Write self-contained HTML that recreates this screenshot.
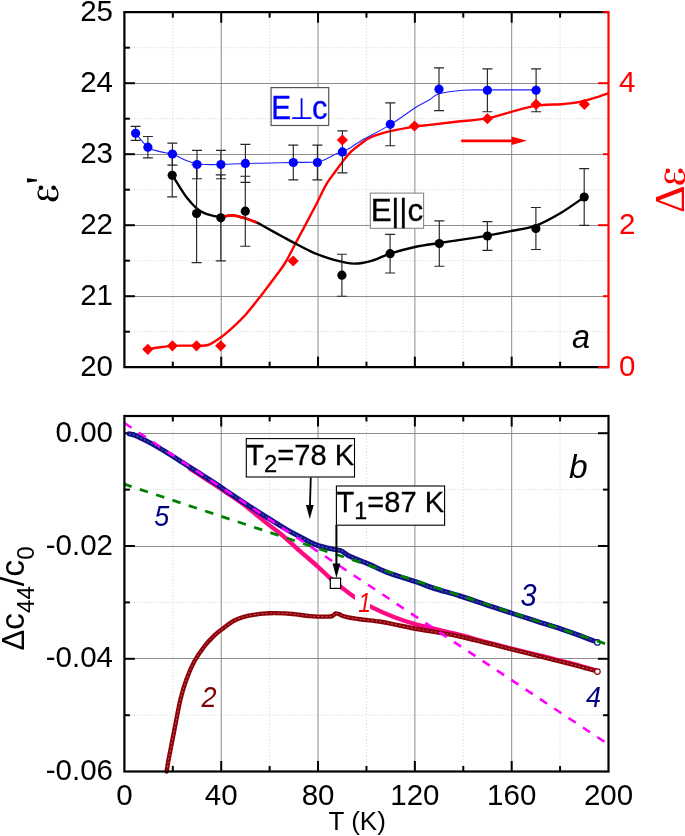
<!DOCTYPE html>
<html><head><meta charset="utf-8"><style>
html,body{margin:0;padding:0;background:#fff;}
body{width:685px;height:836px;overflow:hidden;}
svg{display:block;will-change:transform;}
</style></head><body>
<svg width="685" height="836" viewBox="0 0 685 836">
<rect width="685" height="836" fill="#fff"/>
<line x1="172.81" y1="12.2" x2="172.81" y2="367.2" stroke="#dcdcdc" stroke-width="1" stroke-dasharray="1.4 1.8"/>
<line x1="269.63" y1="12.2" x2="269.63" y2="367.2" stroke="#dcdcdc" stroke-width="1" stroke-dasharray="1.4 1.8"/>
<line x1="366.45" y1="12.2" x2="366.45" y2="367.2" stroke="#dcdcdc" stroke-width="1" stroke-dasharray="1.4 1.8"/>
<line x1="463.27" y1="12.2" x2="463.27" y2="367.2" stroke="#dcdcdc" stroke-width="1" stroke-dasharray="1.4 1.8"/>
<line x1="560.09" y1="12.2" x2="560.09" y2="367.2" stroke="#dcdcdc" stroke-width="1" stroke-dasharray="1.4 1.8"/>
<line x1="124.4" y1="331.7" x2="608.5" y2="331.7" stroke="#dcdcdc" stroke-width="1" stroke-dasharray="1.4 1.8"/>
<line x1="124.4" y1="260.7" x2="608.5" y2="260.7" stroke="#dcdcdc" stroke-width="1" stroke-dasharray="1.4 1.8"/>
<line x1="124.4" y1="189.7" x2="608.5" y2="189.7" stroke="#dcdcdc" stroke-width="1" stroke-dasharray="1.4 1.8"/>
<line x1="124.4" y1="118.7" x2="608.5" y2="118.7" stroke="#dcdcdc" stroke-width="1" stroke-dasharray="1.4 1.8"/>
<line x1="124.4" y1="47.7" x2="608.5" y2="47.7" stroke="#dcdcdc" stroke-width="1" stroke-dasharray="1.4 1.8"/>
<line x1="221.22" y1="12.2" x2="221.22" y2="367.2" stroke="#8c8c8c" stroke-width="1"/>
<line x1="318.04" y1="12.2" x2="318.04" y2="367.2" stroke="#8c8c8c" stroke-width="1"/>
<line x1="414.86" y1="12.2" x2="414.86" y2="367.2" stroke="#8c8c8c" stroke-width="1"/>
<line x1="511.68" y1="12.2" x2="511.68" y2="367.2" stroke="#8c8c8c" stroke-width="1"/>
<line x1="124.4" y1="296.5" x2="608.5" y2="296.5" stroke="#8c8c8c" stroke-width="1"/>
<line x1="124.4" y1="225.5" x2="608.5" y2="225.5" stroke="#8c8c8c" stroke-width="1"/>
<line x1="124.4" y1="154.5" x2="608.5" y2="154.5" stroke="#8c8c8c" stroke-width="1"/>
<line x1="124.4" y1="83.5" x2="608.5" y2="83.5" stroke="#8c8c8c" stroke-width="1"/>
<path d="M147.8,349.3 C149.83,348.97 155.9,347.87 160,347.3 C164.1,346.73 168.23,346.18 172.4,345.9 C176.57,345.62 180.98,345.65 185,345.6 C189.02,345.55 192.68,345.7 196.5,345.6 C200.32,345.5 203.82,346.4 207.9,345 C211.98,343.6 216.85,340.15 221,337.2 C225.15,334.25 228.63,331.13 232.8,327.3 C236.97,323.47 241.4,319.35 246,314.2 C250.6,309.05 255.47,302.73 260.4,296.4 C265.33,290.07 271.48,281.77 275.6,276.2 C279.72,270.63 281.92,268.2 285.1,263 C288.28,257.8 291.3,251.38 294.7,245 C298.1,238.62 302.12,231.07 305.5,224.7 C308.88,218.33 311.53,213.53 315,206.8 C318.47,200.07 322.97,190.1 326.3,184.3 C329.63,178.5 332.38,175.65 335,172 C337.62,168.35 339.37,165.75 342,162.4 C344.63,159.05 347.8,154.9 350.8,151.9 C353.8,148.9 356.8,146.78 360,144.4 C363.2,142.02 364.93,139.8 370,137.6 C375.07,135.4 382.98,133.03 390.4,131.2 C397.82,129.37 407.9,127.65 414.5,126.6 C421.1,125.55 423.03,125.7 430,124.9 C436.97,124.1 446.75,122.88 456.3,121.8 C465.85,120.72 478.55,119.93 487.3,118.4 C496.05,116.87 500.7,114.73 508.8,112.6 C516.9,110.47 527.13,107 535.9,105.6 C544.67,104.2 554.08,104.82 561.4,104.2 C568.72,103.58 573.67,103.13 579.8,101.9 C585.93,100.67 593.42,98.23 598.2,96.8 C602.98,95.37 606.78,93.88 608.5,93.3" fill="none" stroke="#ff0000" stroke-width="2.4"/>
<path d="M172.3,175.2 C173.52,177.15 177.17,183.13 179.6,186.9 C182.03,190.67 184.1,194.27 186.9,197.8 C189.7,201.33 193.48,205.53 196.4,208.1 C199.32,210.67 201.6,211.92 204.4,213.2 C207.2,214.48 210.52,215.18 213.2,215.8 C215.88,216.42 217.33,216.97 220.5,216.9 C223.67,216.83 228.07,215.17 232.2,215.4 C236.33,215.63 241.17,217.08 245.3,218.3 C249.43,219.52 253.72,221.25 257,222.7 C260.28,224.15 260.72,224.67 265,227 C269.28,229.33 277.55,233.9 282.7,236.7 C287.85,239.5 290.72,241.12 295.9,243.8 C301.08,246.48 307.45,250.13 313.8,252.8 C320.15,255.47 327.33,258 334,259.8 C340.67,261.6 347.55,263.43 353.8,263.6 C360.05,263.77 365.47,262.45 371.5,260.8 C377.53,259.15 382.77,256 390,253.7 C397.23,251.4 406.68,248.78 414.9,247 C423.12,245.22 431.42,244.23 439.3,243 C447.18,241.77 454.18,240.83 462.2,239.6 C470.22,238.37 479.52,236.97 487.4,235.6 C495.28,234.23 501.42,233.07 509.5,231.4 C517.58,229.73 527.37,228.67 535.9,225.6 C544.43,222.53 552.62,217.77 560.7,213 C568.78,208.23 580.45,199.67 584.4,197" fill="none" stroke="#000" stroke-width="2.4"/>
<path d="M220.5,216.9 C223.67,216.83 228.07,215.17 232.2,215.4 C236.33,215.63 241.17,217.08 245.3,218.3 C249.43,219.52 253.72,221.25 257,222.7" fill="none" stroke="#ff0000" stroke-width="2.6"/>
<path d="M135.6,133.3 C137.65,135.62 143.83,144.15 147.9,147.2 C151.97,150.25 155.92,150.45 160,151.6 C164.08,152.75 168.23,152.7 172.4,154.1 C176.57,155.5 180.9,158.38 185,160 C189.1,161.62 192.83,163.03 197,163.8 C201.17,164.57 206.02,164.48 210,164.6 C213.98,164.72 215,164.68 220.9,164.5 C226.8,164.32 237.22,163.75 245.4,163.5 C253.58,163.25 262.02,163.18 270,163 C277.98,162.82 285.38,162.57 293.3,162.4 C301.22,162.23 312,162.58 317.5,162 C323,161.42 323.08,160.3 326.3,158.9 C329.52,157.5 334.12,154.77 336.8,153.6 C339.48,152.43 340.07,152.92 342.4,151.9 C344.73,150.88 347.87,149.25 350.8,147.5 C353.73,145.75 353.4,145.22 360,141.4 C366.6,137.58 381.08,130.28 390.4,124.6 C399.72,118.92 409.47,111.4 415.9,107.3 C422.33,103.2 425.15,102.25 429,100 C432.85,97.75 433.33,95.43 439,93.8 C444.67,92.17 454.93,90.85 463,90.2 C471.07,89.55 475.22,89.95 487.4,89.9 C499.58,89.85 527.98,89.9 536.1,89.9" fill="none" stroke="#2020ff" stroke-width="1.1"/>
<path d="M172.2,153.8V196.8M167.2,153.8h10M167.2,196.8h10" stroke="#262626" stroke-width="1.15" fill="none"/>
<path d="M196.6,164.6V262.6M191.6,164.6h10M191.6,262.6h10" stroke="#262626" stroke-width="1.15" fill="none"/>
<path d="M220.8,174.8V260.8M215.8,174.8h10M215.8,260.8h10" stroke="#262626" stroke-width="1.15" fill="none"/>
<path d="M245.3,176.2V246.2M240.3,176.2h10M240.3,246.2h10" stroke="#262626" stroke-width="1.15" fill="none"/>
<path d="M341.9,254.2V296.2M336.9,254.2h10M336.9,296.2h10" stroke="#262626" stroke-width="1.15" fill="none"/>
<path d="M390.1,234.4V273M385.1,234.4h10M385.1,273h10" stroke="#262626" stroke-width="1.15" fill="none"/>
<path d="M439.3,220.8V266.2M434.3,220.8h10M434.3,266.2h10" stroke="#262626" stroke-width="1.15" fill="none"/>
<path d="M487.4,221.6V250.4M482.4,221.6h10M482.4,250.4h10" stroke="#262626" stroke-width="1.15" fill="none"/>
<path d="M535.9,207.5V249.5M530.9,207.5h10M530.9,249.5h10" stroke="#262626" stroke-width="1.15" fill="none"/>
<path d="M584.2,168.6V225.4M579.2,168.6h10M579.2,225.4h10" stroke="#262626" stroke-width="1.15" fill="none"/>
<path d="M135.6,126.3V140.3M130.6,126.3h10M130.6,140.3h10" stroke="#262626" stroke-width="1.15" fill="none"/>
<path d="M147.9,136.5V157.9M142.9,136.5h10M142.9,157.9h10" stroke="#262626" stroke-width="1.15" fill="none"/>
<path d="M172.4,143.1V165.1M167.4,143.1h10M167.4,165.1h10" stroke="#262626" stroke-width="1.15" fill="none"/>
<path d="M197,150.3V178.7M192,150.3h10M192,178.7h10" stroke="#262626" stroke-width="1.15" fill="none"/>
<path d="M220.9,150.3V178.7M215.9,150.3h10M215.9,178.7h10" stroke="#262626" stroke-width="1.15" fill="none"/>
<path d="M245.4,144.4V182.4M240.4,144.4h10M240.4,182.4h10" stroke="#262626" stroke-width="1.15" fill="none"/>
<path d="M293.3,145.1V179.9M288.3,145.1h10M288.3,179.9h10" stroke="#262626" stroke-width="1.15" fill="none"/>
<path d="M317.4,145.1V179.9M312.4,145.1h10M312.4,179.9h10" stroke="#262626" stroke-width="1.15" fill="none"/>
<path d="M342.4,130.9V172.9M337.4,130.9h10M337.4,172.9h10" stroke="#262626" stroke-width="1.15" fill="none"/>
<path d="M390.3,102.9V145.7M385.3,102.9h10M385.3,145.7h10" stroke="#262626" stroke-width="1.15" fill="none"/>
<path d="M439,67.8V110.6M434,67.8h10M434,110.6h10" stroke="#262626" stroke-width="1.15" fill="none"/>
<path d="M487.4,68.9V111.7M482.4,68.9h10M482.4,111.7h10" stroke="#262626" stroke-width="1.15" fill="none"/>
<path d="M536.1,68.9V111.7M531.1,68.9h10M531.1,111.7h10" stroke="#262626" stroke-width="1.15" fill="none"/>
<circle cx="172.2" cy="175.3" r="4.6" fill="#000"/>
<circle cx="196.6" cy="213.6" r="4.6" fill="#000"/>
<circle cx="220.8" cy="217.8" r="4.6" fill="#000"/>
<circle cx="245.3" cy="211.2" r="4.6" fill="#000"/>
<circle cx="341.9" cy="275.2" r="4.6" fill="#000"/>
<circle cx="390.1" cy="253.7" r="4.6" fill="#000"/>
<circle cx="439.3" cy="243.5" r="4.6" fill="#000"/>
<circle cx="487.4" cy="236" r="4.6" fill="#000"/>
<circle cx="535.9" cy="228.5" r="4.6" fill="#000"/>
<circle cx="584.2" cy="197" r="4.6" fill="#000"/>
<circle cx="135.6" cy="133.3" r="4.6" fill="#0000ff"/>
<circle cx="147.9" cy="147.2" r="4.6" fill="#0000ff"/>
<circle cx="172.4" cy="154.1" r="4.6" fill="#0000ff"/>
<circle cx="197" cy="164.5" r="4.6" fill="#0000ff"/>
<circle cx="220.9" cy="164.5" r="4.6" fill="#0000ff"/>
<circle cx="245.4" cy="163.4" r="4.6" fill="#0000ff"/>
<circle cx="293.3" cy="162.5" r="4.6" fill="#0000ff"/>
<circle cx="317.4" cy="162.5" r="4.6" fill="#0000ff"/>
<circle cx="342.4" cy="151.9" r="4.6" fill="#0000ff"/>
<circle cx="390.3" cy="124.3" r="4.6" fill="#0000ff"/>
<circle cx="439" cy="89.2" r="4.6" fill="#0000ff"/>
<circle cx="487.4" cy="90.3" r="4.6" fill="#0000ff"/>
<circle cx="536.1" cy="90.3" r="4.6" fill="#0000ff"/>
<path d="M147.8,343.7L153.4,349.3L147.8,354.9L142.2,349.3Z" fill="#ff0000"/>
<path d="M172.4,340.2L178,345.8L172.4,351.4L166.8,345.8Z" fill="#ff0000"/>
<path d="M196.5,340.2L202.1,345.8L196.5,351.4L190.9,345.8Z" fill="#ff0000"/>
<path d="M220.7,340.2L226.3,345.8L220.7,351.4L215.1,345.8Z" fill="#ff0000"/>
<path d="M293.2,255.4L298.8,261L293.2,266.6L287.6,261Z" fill="#ff0000"/>
<path d="M342.4,134.4L348,140L342.4,145.6L336.8,140Z" fill="#ff0000"/>
<path d="M414.5,120.4L420.1,126L414.5,131.6L408.9,126Z" fill="#ff0000"/>
<path d="M487.4,113.1L493,118.7L487.4,124.3L481.8,118.7Z" fill="#ff0000"/>
<path d="M536.1,98.7L541.7,104.3L536.1,109.9L530.5,104.3Z" fill="#ff0000"/>
<path d="M584.4,98.7L590,104.3L584.4,109.9L578.8,104.3Z" fill="#ff0000"/>
<path d="M461.2,140.8H513" stroke="#ff0000" stroke-width="2.8" fill="none"/>
<path d="M511.5,136.6L527,140.8L511.5,145Z" fill="#ff0000"/>
<rect x="271.1" y="87.6" width="57.6" height="37.9" fill="#fff" stroke="#555" stroke-width="1.2"/>
<text transform="translate(271.2,118.6) scale(0.97,1.07)" style="font-family:'Liberation Sans',sans-serif;font-size:30.5px" fill="#0000ff" stroke="#0000ff" stroke-width="0.35">E</text>
<path d="M301.6,98.2V118M292.2,118.1H311.4" stroke="#0000ff" stroke-width="1.8" fill="none"/>
<text transform="translate(311.9,118.6) scale(1,1.05)" style="font-family:'Liberation Sans',sans-serif;font-size:31px" fill="#0000ff" stroke="#0000ff" stroke-width="0.35">c</text>
<rect x="370.3" y="193.1" width="53.3" height="35.2" fill="#fff" stroke="#888" stroke-width="1.1"/>
<text x="370.8" y="221" style="font-family:'Liberation Sans',sans-serif;font-size:31.5px" fill="#000" stroke="#000" stroke-width="0.3">E<tspan dx="-0.6">|</tspan><tspan dx="-0.2">|</tspan>c</text>
<text transform="translate(572,348.3) scale(0.95,1)" style="font-family:'Liberation Sans',sans-serif;font-size:34px;font-style:italic" fill="#000">a</text>
<path d="M124.4,12.2V367.2H608.5" stroke="#000" stroke-width="2.2" fill="none"/>
<path d="M123.3,12.2H608.5" stroke="#000" stroke-width="2.2" fill="none"/>
<line x1="221.22" y1="12.2" x2="221.22" y2="22.7" stroke="#000" stroke-width="2"/>
<line x1="221.22" y1="367.2" x2="221.22" y2="356.7" stroke="#000" stroke-width="2"/>
<line x1="318.04" y1="12.2" x2="318.04" y2="22.7" stroke="#000" stroke-width="2"/>
<line x1="318.04" y1="367.2" x2="318.04" y2="356.7" stroke="#000" stroke-width="2"/>
<line x1="414.86" y1="12.2" x2="414.86" y2="22.7" stroke="#000" stroke-width="2"/>
<line x1="414.86" y1="367.2" x2="414.86" y2="356.7" stroke="#000" stroke-width="2"/>
<line x1="511.68" y1="12.2" x2="511.68" y2="22.7" stroke="#000" stroke-width="2"/>
<line x1="511.68" y1="367.2" x2="511.68" y2="356.7" stroke="#000" stroke-width="2"/>
<line x1="172.81" y1="12.2" x2="172.81" y2="17.7" stroke="#000" stroke-width="2"/>
<line x1="172.81" y1="367.2" x2="172.81" y2="361.7" stroke="#000" stroke-width="2"/>
<line x1="269.63" y1="12.2" x2="269.63" y2="17.7" stroke="#000" stroke-width="2"/>
<line x1="269.63" y1="367.2" x2="269.63" y2="361.7" stroke="#000" stroke-width="2"/>
<line x1="366.45" y1="12.2" x2="366.45" y2="17.7" stroke="#000" stroke-width="2"/>
<line x1="366.45" y1="367.2" x2="366.45" y2="361.7" stroke="#000" stroke-width="2"/>
<line x1="463.27" y1="12.2" x2="463.27" y2="17.7" stroke="#000" stroke-width="2"/>
<line x1="463.27" y1="367.2" x2="463.27" y2="361.7" stroke="#000" stroke-width="2"/>
<line x1="560.09" y1="12.2" x2="560.09" y2="17.7" stroke="#000" stroke-width="2"/>
<line x1="560.09" y1="367.2" x2="560.09" y2="361.7" stroke="#000" stroke-width="2"/>
<line x1="124.4" y1="296.2" x2="134.9" y2="296.2" stroke="#000" stroke-width="2"/>
<line x1="124.4" y1="225.2" x2="134.9" y2="225.2" stroke="#000" stroke-width="2"/>
<line x1="124.4" y1="154.2" x2="134.9" y2="154.2" stroke="#000" stroke-width="2"/>
<line x1="124.4" y1="83.2" x2="134.9" y2="83.2" stroke="#000" stroke-width="2"/>
<line x1="124.4" y1="331.7" x2="129.9" y2="331.7" stroke="#000" stroke-width="2"/>
<line x1="124.4" y1="260.7" x2="129.9" y2="260.7" stroke="#000" stroke-width="2"/>
<line x1="124.4" y1="189.7" x2="129.9" y2="189.7" stroke="#000" stroke-width="2"/>
<line x1="124.4" y1="118.7" x2="129.9" y2="118.7" stroke="#000" stroke-width="2"/>
<line x1="124.4" y1="47.7" x2="129.9" y2="47.7" stroke="#000" stroke-width="2"/>
<line x1="608.5" y1="11.1" x2="608.5" y2="368.3" stroke="#ff0000" stroke-width="2.2"/>
<line x1="608.5" y1="367.2" x2="598" y2="367.2" stroke="#ff0000" stroke-width="2"/>
<line x1="608.5" y1="225.2" x2="598" y2="225.2" stroke="#ff0000" stroke-width="2"/>
<line x1="608.5" y1="83.2" x2="598" y2="83.2" stroke="#ff0000" stroke-width="2"/>
<line x1="608.5" y1="296.2" x2="603" y2="296.2" stroke="#ff0000" stroke-width="2"/>
<line x1="608.5" y1="154.2" x2="603" y2="154.2" stroke="#ff0000" stroke-width="2"/>
<line x1="608.5" y1="12.2" x2="603" y2="12.2" stroke="#ff0000" stroke-width="2"/>
<text x="113" y="375.8" text-anchor="end" style="font-family:'Liberation Sans',sans-serif;font-size:29.5px" fill="#000">20</text>
<text x="113" y="304.8" text-anchor="end" style="font-family:'Liberation Sans',sans-serif;font-size:29.5px" fill="#000">21</text>
<text x="113" y="233.8" text-anchor="end" style="font-family:'Liberation Sans',sans-serif;font-size:29.5px" fill="#000">22</text>
<text x="113" y="162.8" text-anchor="end" style="font-family:'Liberation Sans',sans-serif;font-size:29.5px" fill="#000">23</text>
<text x="113" y="91.8" text-anchor="end" style="font-family:'Liberation Sans',sans-serif;font-size:29.5px" fill="#000">24</text>
<text x="113" y="20.8" text-anchor="end" style="font-family:'Liberation Sans',sans-serif;font-size:29.5px" fill="#000">25</text>
<text x="619" y="375.8" style="font-family:'Liberation Sans',sans-serif;font-size:29.5px" fill="#ff0000">0</text>
<text x="619" y="233.8" style="font-family:'Liberation Sans',sans-serif;font-size:29.5px" fill="#ff0000">2</text>
<text x="619" y="91.8" style="font-family:'Liberation Sans',sans-serif;font-size:29.5px" fill="#ff0000">4</text>
<g transform="matrix(0,-1,1,0,37.5,201.5)" fill="#000"><path d="M12.6,1.9 C11.4,0.6 9.8,0 8.2,0 C4.4,0 1.4,2.2 1.4,5.2 C1.4,7.4 2.2,9.0 3.8,10.0 C1.4,11.0 0,12.8 0,15.4 C0,18.8 3.0,21 7.2,21 C10.6,21 13.2,19.6 14.8,17.4 L13.4,16.6 C12.0,18.6 9.8,19.6 7.6,19.6 C5.0,19.6 3.9,17.8 3.9,15.2 C3.9,12.8 4.7,11.3 6.2,10.7 L11.9,10.6 L11.9,9.6 L6.2,9.5 C5.0,8.7 4.6,7.2 4.6,5.4 C4.6,3.0 6.0,1.3 8.4,1.3 C10.0,1.3 11.2,1.9 12.0,2.9 Z"/><circle cx="13.8" cy="3.4" r="2.3"/><circle cx="13.8" cy="16.1" r="2.3"/></g>
<text transform="translate(58.0,202.9) rotate(-90)" style="font-family:'Liberation Serif',serif;font-size:43px" fill="#000"><tspan x="18.6" dy="-3.5">'</tspan></text>
<text transform="translate(684.2,213) rotate(-90)" style="font-family:'Liberation Serif',serif;font-size:43px" fill="#ff0000">&#916;</text>
<g transform="matrix(0,-1,1,0,664.4,184.7)" fill="#ff0000"><path d="M12.6,1.9 C11.4,0.6 9.8,0 8.2,0 C4.4,0 1.4,2.2 1.4,5.2 C1.4,7.4 2.2,9.0 3.8,10.0 C1.4,11.0 0,12.8 0,15.4 C0,18.8 3.0,21 7.2,21 C10.6,21 13.2,19.6 14.8,17.4 L13.4,16.6 C12.0,18.6 9.8,19.6 7.6,19.6 C5.0,19.6 3.9,17.8 3.9,15.2 C3.9,12.8 4.7,11.3 6.2,10.7 L11.9,10.6 L11.9,9.6 L6.2,9.5 C5.0,8.7 4.6,7.2 4.6,5.4 C4.6,3.0 6.0,1.3 8.4,1.3 C10.0,1.3 11.2,1.9 12.0,2.9 Z"/><circle cx="13.8" cy="3.4" r="2.3"/><circle cx="13.8" cy="16.1" r="2.3"/></g>
<line x1="172.81" y1="416" x2="172.81" y2="771.5" stroke="#dcdcdc" stroke-width="1" stroke-dasharray="1.4 1.8"/>
<line x1="269.63" y1="416" x2="269.63" y2="771.5" stroke="#dcdcdc" stroke-width="1" stroke-dasharray="1.4 1.8"/>
<line x1="366.45" y1="416" x2="366.45" y2="771.5" stroke="#dcdcdc" stroke-width="1" stroke-dasharray="1.4 1.8"/>
<line x1="463.27" y1="416" x2="463.27" y2="771.5" stroke="#dcdcdc" stroke-width="1" stroke-dasharray="1.4 1.8"/>
<line x1="560.09" y1="416" x2="560.09" y2="771.5" stroke="#dcdcdc" stroke-width="1" stroke-dasharray="1.4 1.8"/>
<line x1="124.4" y1="489.6" x2="608.5" y2="489.6" stroke="#dcdcdc" stroke-width="1" stroke-dasharray="1.4 1.8"/>
<line x1="124.4" y1="602.4" x2="608.5" y2="602.4" stroke="#dcdcdc" stroke-width="1" stroke-dasharray="1.4 1.8"/>
<line x1="124.4" y1="715.2" x2="608.5" y2="715.2" stroke="#dcdcdc" stroke-width="1" stroke-dasharray="1.4 1.8"/>
<line x1="221.22" y1="416" x2="221.22" y2="771.5" stroke="#8c8c8c" stroke-width="1"/>
<line x1="318.04" y1="416" x2="318.04" y2="771.5" stroke="#8c8c8c" stroke-width="1"/>
<line x1="414.86" y1="416" x2="414.86" y2="771.5" stroke="#8c8c8c" stroke-width="1"/>
<line x1="511.68" y1="416" x2="511.68" y2="771.5" stroke="#8c8c8c" stroke-width="1"/>
<line x1="124.4" y1="433.5" x2="608.5" y2="433.5" stroke="#8c8c8c" stroke-width="1"/>
<line x1="124.4" y1="546.5" x2="608.5" y2="546.5" stroke="#8c8c8c" stroke-width="1"/>
<line x1="124.4" y1="658.5" x2="608.5" y2="658.5" stroke="#8c8c8c" stroke-width="1"/>
<line x1="221.22" y1="416" x2="221.22" y2="426.5" stroke="#000" stroke-width="2"/>
<line x1="221.22" y1="771.5" x2="221.22" y2="761" stroke="#000" stroke-width="2"/>
<line x1="318.04" y1="416" x2="318.04" y2="426.5" stroke="#000" stroke-width="2"/>
<line x1="318.04" y1="771.5" x2="318.04" y2="761" stroke="#000" stroke-width="2"/>
<line x1="414.86" y1="416" x2="414.86" y2="426.5" stroke="#000" stroke-width="2"/>
<line x1="414.86" y1="771.5" x2="414.86" y2="761" stroke="#000" stroke-width="2"/>
<line x1="511.68" y1="416" x2="511.68" y2="426.5" stroke="#000" stroke-width="2"/>
<line x1="511.68" y1="771.5" x2="511.68" y2="761" stroke="#000" stroke-width="2"/>
<line x1="172.81" y1="416" x2="172.81" y2="421.5" stroke="#000" stroke-width="2"/>
<line x1="172.81" y1="771.5" x2="172.81" y2="766" stroke="#000" stroke-width="2"/>
<line x1="269.63" y1="416" x2="269.63" y2="421.5" stroke="#000" stroke-width="2"/>
<line x1="269.63" y1="771.5" x2="269.63" y2="766" stroke="#000" stroke-width="2"/>
<line x1="366.45" y1="416" x2="366.45" y2="421.5" stroke="#000" stroke-width="2"/>
<line x1="366.45" y1="771.5" x2="366.45" y2="766" stroke="#000" stroke-width="2"/>
<line x1="463.27" y1="416" x2="463.27" y2="421.5" stroke="#000" stroke-width="2"/>
<line x1="463.27" y1="771.5" x2="463.27" y2="766" stroke="#000" stroke-width="2"/>
<line x1="560.09" y1="416" x2="560.09" y2="421.5" stroke="#000" stroke-width="2"/>
<line x1="560.09" y1="771.5" x2="560.09" y2="766" stroke="#000" stroke-width="2"/>
<line x1="124.4" y1="433.2" x2="134.9" y2="433.2" stroke="#000" stroke-width="2"/>
<line x1="608.5" y1="433.2" x2="598" y2="433.2" stroke="#000" stroke-width="2"/>
<line x1="124.4" y1="546" x2="134.9" y2="546" stroke="#000" stroke-width="2"/>
<line x1="608.5" y1="546" x2="598" y2="546" stroke="#000" stroke-width="2"/>
<line x1="124.4" y1="658.8" x2="134.9" y2="658.8" stroke="#000" stroke-width="2"/>
<line x1="608.5" y1="658.8" x2="598" y2="658.8" stroke="#000" stroke-width="2"/>
<line x1="124.4" y1="489.6" x2="129.9" y2="489.6" stroke="#000" stroke-width="2"/>
<line x1="608.5" y1="489.6" x2="603" y2="489.6" stroke="#000" stroke-width="2"/>
<line x1="124.4" y1="602.4" x2="129.9" y2="602.4" stroke="#000" stroke-width="2"/>
<line x1="608.5" y1="602.4" x2="603" y2="602.4" stroke="#000" stroke-width="2"/>
<line x1="124.4" y1="715.2" x2="129.9" y2="715.2" stroke="#000" stroke-width="2"/>
<line x1="608.5" y1="715.2" x2="603" y2="715.2" stroke="#000" stroke-width="2"/>
<path d="M190,468.6 C192.93,470.53 201.77,476.37 207.6,480.2 C213.43,484.03 218.97,487.53 225,491.6 C231.03,495.67 237.02,499.47 243.8,504.6 C250.58,509.73 259.37,517.37 265.7,522.4 C272.03,527.43 276.08,530 281.8,534.8 C287.52,539.6 294.05,545.95 300,551.2 C305.95,556.45 312.4,561.75 317.5,566.3 C322.6,570.85 326.52,574.93 330.6,578.5 C334.68,582.07 338.05,584.63 342,587.7 C345.95,590.77 349.53,593.75 354.3,596.9 C359.07,600.05 364.02,603.25 370.6,606.6 C377.18,609.95 386.53,614.13 393.8,617 C401.07,619.87 407.87,621.93 414.2,623.8 C420.53,625.67 425.83,626.73 431.8,628.2 C437.77,629.67 444.63,631.3 450,632.6 C455.37,633.9 457.95,634.4 464,636 C470.05,637.6 478.2,640.07 486.3,642.2 C494.4,644.33 504.15,646.7 512.6,648.8 C521.05,650.9 528.98,652.8 537,654.8 C545.02,656.8 553.53,658.97 560.7,660.8 C567.87,662.63 574.12,664.2 580,665.8 C585.88,667.4 593.33,669.63 596,670.4" fill="none" stroke="#ff0a84" stroke-width="4.4" stroke-linecap="round"/>
<path d="M166.6,771.5 C166.92,769.58 167.8,763.9 168.5,760 C169.2,756.1 169.77,753.38 170.8,748.1 C171.83,742.82 173.07,736.52 174.7,728.3 C176.33,720.08 178.62,707.02 180.6,698.8 C182.58,690.58 184.3,685.25 186.6,679 C188.9,672.75 191.45,666.72 194.4,661.3 C197.35,655.88 201,650.78 204.3,646.5 C207.6,642.22 210.92,638.72 214.2,635.6 C217.48,632.48 220.72,630.27 224,627.8 C227.28,625.33 230.6,622.62 233.9,620.8 C237.2,618.98 240.28,617.93 243.8,616.9 C247.32,615.87 251.1,615.18 255,614.6 C258.9,614.02 263.87,613.65 267.2,613.4 C270.53,613.15 270.77,613 275,613.1 C279.23,613.2 286.77,613.5 292.6,614 C298.43,614.5 304.17,615.67 310,616.1 C315.83,616.53 323.85,616.62 327.6,616.6 C331.35,616.58 331.18,616.53 332.5,616 C333.82,615.47 334.42,613.7 335.5,613.4 C336.58,613.1 337.4,613.67 339,614.2 C340.6,614.73 341.6,615.75 345.1,616.6 C348.6,617.45 354.32,618.48 360,619.3 C365.68,620.12 373.57,620.67 379.2,621.5 C384.83,622.33 387.97,623.13 393.8,624.3 C399.63,625.47 406.5,627.08 414.2,628.5 C421.9,629.92 432.37,631.47 440,632.8 C447.63,634.13 452.28,634.8 460,636.5 C467.72,638.2 477.53,640.82 486.3,643 C495.07,645.18 504.15,647.5 512.6,649.6 C521.05,651.7 528.98,653.6 537,655.6 C545.02,657.6 553.53,659.77 560.7,661.6 C567.87,663.43 573.85,664.95 580,666.6 C586.15,668.25 594.67,670.68 597.6,671.5" fill="none" stroke="#8c0008" stroke-width="4.4" stroke-linecap="round"/>
<path d="M166.6,771.5 C166.92,769.58 167.8,763.9 168.5,760 C169.2,756.1 169.77,753.38 170.8,748.1 C171.83,742.82 173.07,736.52 174.7,728.3 C176.33,720.08 178.62,707.02 180.6,698.8 C182.58,690.58 184.3,685.25 186.6,679 C188.9,672.75 191.45,666.72 194.4,661.3 C197.35,655.88 201,650.78 204.3,646.5 C207.6,642.22 210.92,638.72 214.2,635.6 C217.48,632.48 220.72,630.27 224,627.8 C227.28,625.33 230.6,622.62 233.9,620.8 C237.2,618.98 240.28,617.93 243.8,616.9 C247.32,615.87 251.1,615.18 255,614.6 C258.9,614.02 263.87,613.65 267.2,613.4 C270.53,613.15 270.77,613 275,613.1 C279.23,613.2 286.77,613.5 292.6,614 C298.43,614.5 304.17,615.67 310,616.1 C315.83,616.53 323.85,616.62 327.6,616.6 C331.35,616.58 331.18,616.53 332.5,616 C333.82,615.47 334.42,613.7 335.5,613.4 C336.58,613.1 337.4,613.67 339,614.2 C340.6,614.73 341.6,615.75 345.1,616.6 C348.6,617.45 354.32,618.48 360,619.3 C365.68,620.12 373.57,620.67 379.2,621.5 C384.83,622.33 387.97,623.13 393.8,624.3 C399.63,625.47 406.5,627.08 414.2,628.5 C421.9,629.92 432.37,631.47 440,632.8 C447.63,634.13 452.28,634.8 460,636.5 C467.72,638.2 477.53,640.82 486.3,643 C495.07,645.18 504.15,647.5 512.6,649.6 C521.05,651.7 528.98,653.6 537,655.6 C545.02,657.6 553.53,659.77 560.7,661.6 C567.87,663.43 573.85,664.95 580,666.6 C586.15,668.25 594.67,670.68 597.6,671.5" fill="none" stroke="#c05a64" stroke-width="1" stroke-dasharray="2 2"/>
<circle cx="597.4" cy="671.6" r="2.8" fill="#fff" stroke="#8c0008" stroke-width="1.2"/>
<path d="M129,433.8 C130.12,434.1 132.63,434.33 135.7,435.6 C138.77,436.87 143.52,439.37 147.4,441.4 C151.28,443.43 155.12,445.57 159,447.8 C162.88,450.03 166.8,452.37 170.7,454.8 C174.6,457.23 178.5,459.88 182.4,462.4 C186.3,464.92 190.5,467.6 194.1,469.9 C197.7,472.2 199.37,473.22 204,476.2 C208.63,479.18 215.27,483.4 221.9,487.8 C228.53,492.2 236.5,497.8 243.8,502.6 C251.1,507.4 258.4,512 265.7,516.6 C273,521.2 281.88,526.83 287.6,530.2 C293.32,533.57 296.27,534.83 300,536.8 C303.73,538.77 307.08,540.58 310,542 C312.92,543.42 314.83,544.37 317.5,545.3 C320.17,546.23 323.08,546.88 326,547.6 C328.92,548.32 332.47,549.07 335,549.6 C337.53,550.13 339,549.82 341.2,550.8 C343.4,551.78 345.05,553.87 348.2,555.5 C351.35,557.13 356.47,559.08 360.1,560.6 C363.73,562.12 365.15,562.5 370,564.6 C374.85,566.7 381.62,570.37 389.2,573.2 C396.78,576.03 408.2,579.13 415.5,581.6 C422.8,584.07 425.58,585.6 433,588 C440.42,590.4 451.12,593.2 460,596 C468.88,598.8 477.53,601.88 486.3,604.8 C495.07,607.72 504.15,610.75 512.6,613.5 C521.05,616.25 528.98,618.75 537,621.3 C545.02,623.85 553.53,626.42 560.7,628.8 C567.87,631.18 573.85,633.33 580,635.6 C586.15,637.87 594.67,641.27 597.6,642.4" fill="none" stroke="#101088" stroke-width="5" stroke-linecap="round"/>
<path d="M129,433.8 C130.12,434.1 132.63,434.33 135.7,435.6 C138.77,436.87 143.52,439.37 147.4,441.4 C151.28,443.43 155.12,445.57 159,447.8 C162.88,450.03 166.8,452.37 170.7,454.8 C174.6,457.23 178.5,459.88 182.4,462.4 C186.3,464.92 190.5,467.6 194.1,469.9 C197.7,472.2 199.37,473.22 204,476.2 C208.63,479.18 215.27,483.4 221.9,487.8 C228.53,492.2 236.5,497.8 243.8,502.6 C251.1,507.4 258.4,512 265.7,516.6 C273,521.2 281.88,526.83 287.6,530.2 C293.32,533.57 296.27,534.83 300,536.8 C303.73,538.77 307.08,540.58 310,542 C312.92,543.42 314.83,544.37 317.5,545.3 C320.17,546.23 323.08,546.88 326,547.6 C328.92,548.32 332.47,549.07 335,549.6 C337.53,550.13 339,549.82 341.2,550.8 C343.4,551.78 345.05,553.87 348.2,555.5 C351.35,557.13 356.47,559.08 360.1,560.6 C363.73,562.12 365.15,562.5 370,564.6 C374.85,566.7 381.62,570.37 389.2,573.2 C396.78,576.03 408.2,579.13 415.5,581.6 C422.8,584.07 425.58,585.6 433,588 C440.42,590.4 451.12,593.2 460,596 C468.88,598.8 477.53,601.88 486.3,604.8 C495.07,607.72 504.15,610.75 512.6,613.5 C521.05,616.25 528.98,618.75 537,621.3 C545.02,623.85 553.53,626.42 560.7,628.8 C567.87,631.18 573.85,633.33 580,635.6 C586.15,637.87 594.67,641.27 597.6,642.4" fill="none" stroke="#6a6ab8" stroke-width="1" stroke-dasharray="2 2"/>
<circle cx="597.4" cy="642.4" r="2.8" fill="#fff" stroke="#101088" stroke-width="1.2"/>
<line x1="124.4" y1="423" x2="608.5" y2="744.5" stroke="#ff00ff" stroke-width="2.6" stroke-dasharray="8.6 8.6"/>
<line x1="124.4" y1="484.2" x2="608.5" y2="644.8" stroke="#008000" stroke-width="2.8" stroke-dasharray="8.6 8.6" stroke-dashoffset="1"/>
<rect x="246.3" y="438.6" width="108.2" height="38.4" fill="#fff" stroke="#000" stroke-width="1.1"/>
<text transform="translate(246.3,464.9) scale(0.97,1)" style="font-family:'Liberation Sans',sans-serif;font-size:30px" fill="#000" stroke="#000" stroke-width="0.3">T<tspan style="font-size:24.5px" dy="7.4">2</tspan><tspan dy="-7.4">=78 K</tspan></text>
<path d="M310.8,477.5L309.9,507" stroke="#000" stroke-width="1.8" fill="none"/>
<path d="M306,505L313.7,505L309.8,519Z" fill="#000"/>
<rect x="336.4" y="486.0" width="108.2" height="39.2" fill="#fff" stroke="#000" stroke-width="1.1"/>
<text transform="translate(336.5,511.9) scale(0.97,1)" style="font-family:'Liberation Sans',sans-serif;font-size:30px" fill="#000" stroke="#000" stroke-width="0.3">T<tspan style="font-size:24px" dy="7.4">1</tspan><tspan dy="-7.4">=87 K</tspan></text>
<path d="M336.4,525V566" stroke="#000" stroke-width="2" fill="none"/>
<path d="M332.6,563.6L340.3,563.6L336.4,578Z" fill="#000"/>
<rect x="330.3" y="578.1" width="10.3" height="10.3" fill="#fff" stroke="#000" stroke-width="1.2"/>
<rect x="355" y="589" width="15" height="25" fill="#fff"/>
<text transform="translate(358.2,611.8) scale(0.8,1)" style="font-family:'Liberation Sans',sans-serif;font-size:28.5px;font-style:italic" fill="#ff0000">1</text>
<text transform="translate(201.6,706.8) scale(0.9,1)" style="font-family:'Liberation Sans',sans-serif;font-size:30px;font-style:italic" fill="#800000">2</text>
<text transform="translate(520.5,606) scale(0.95,1)" style="font-family:'Liberation Sans',sans-serif;font-size:30.5px;font-style:italic" fill="#000080">3</text>
<text transform="translate(585.9,706.9) scale(0.9,1)" style="font-family:'Liberation Sans',sans-serif;font-size:30px;font-style:italic" fill="#000080">4</text>
<text transform="translate(154.2,525.5) scale(0.9,1)" style="font-family:'Liberation Sans',sans-serif;font-size:30px;font-style:italic" fill="#000080">5</text>
<text transform="translate(569.1,478.3)" style="font-family:'Liberation Sans',sans-serif;font-size:33.5px;font-style:italic" fill="#000">b</text>
<rect x="124.4" y="416" width="484.1" height="355.5" fill="none" stroke="#000" stroke-width="2.2"/>
<text x="113" y="441.8" text-anchor="end" style="font-family:'Liberation Sans',sans-serif;font-size:29.5px" fill="#000">0.00</text>
<text x="113" y="554.6" text-anchor="end" style="font-family:'Liberation Sans',sans-serif;font-size:29.5px" fill="#000">-0.02</text>
<text x="113" y="667.4" text-anchor="end" style="font-family:'Liberation Sans',sans-serif;font-size:29.5px" fill="#000">-0.04</text>
<text x="113" y="780.2" text-anchor="end" style="font-family:'Liberation Sans',sans-serif;font-size:29.5px" fill="#000">-0.06</text>
<text x="124.4" y="805" text-anchor="middle" style="font-family:'Liberation Sans',sans-serif;font-size:29.5px" fill="#000">0</text>
<text x="221.22" y="805" text-anchor="middle" style="font-family:'Liberation Sans',sans-serif;font-size:29.5px" fill="#000">40</text>
<text x="318.04" y="805" text-anchor="middle" style="font-family:'Liberation Sans',sans-serif;font-size:29.5px" fill="#000">80</text>
<text x="414.86" y="805" text-anchor="middle" style="font-family:'Liberation Sans',sans-serif;font-size:29.5px" fill="#000">120</text>
<text x="511.68" y="805" text-anchor="middle" style="font-family:'Liberation Sans',sans-serif;font-size:29.5px" fill="#000">160</text>
<text x="608.5" y="805" text-anchor="middle" style="font-family:'Liberation Sans',sans-serif;font-size:29.5px" fill="#000">200</text>
<text x="328.5" y="830.3" style="font-family:'Liberation Sans',sans-serif;font-size:26px" fill="#000">T (K)</text>
<text transform="translate(24.4,650.6) rotate(-90)" style="font-family:'Liberation Sans',sans-serif;font-size:34px" fill="#000"><tspan style="font-size:31px">&#916;</tspan>c<tspan style="font-size:24px" dy="9.2">44</tspan><tspan dy="-9.2">/c</tspan><tspan style="font-size:24px" dy="9.2">0</tspan></text>
</svg>
</body></html>
